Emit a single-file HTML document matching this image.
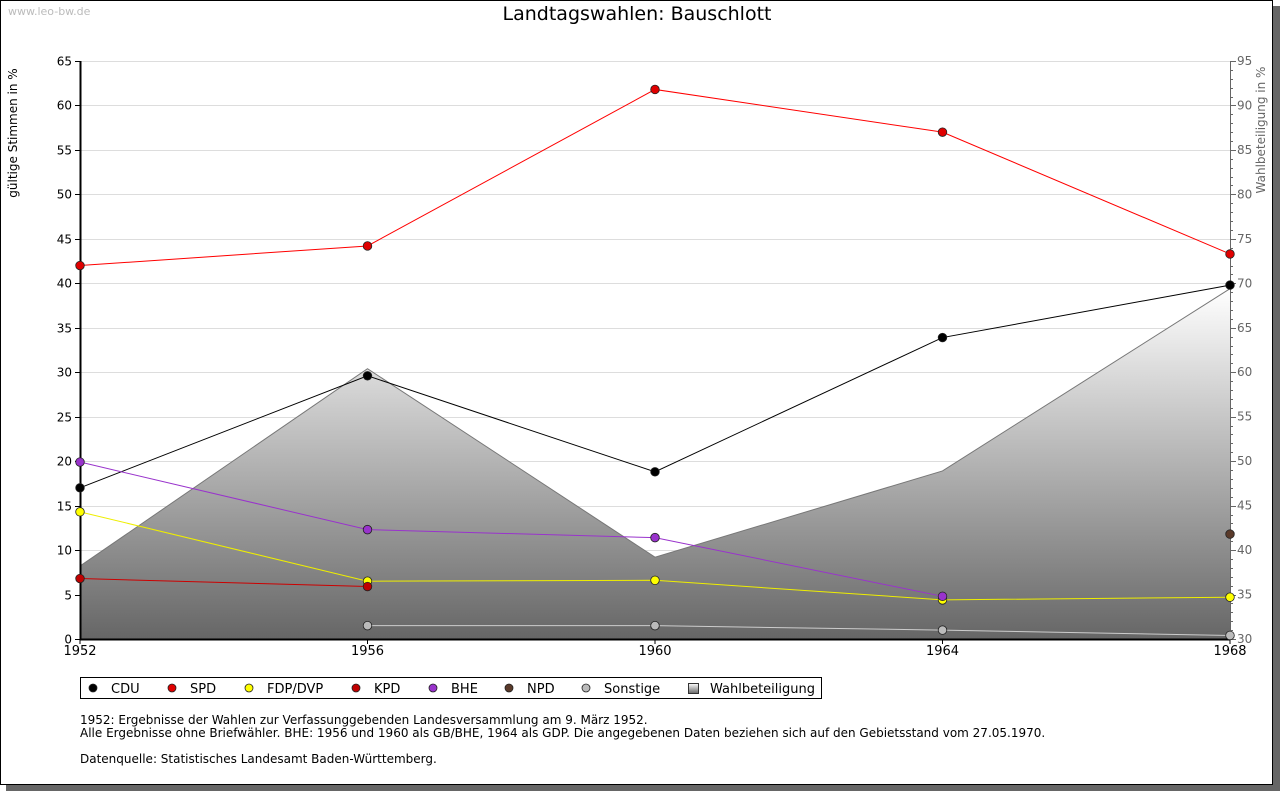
<!DOCTYPE html>
<html><head><meta charset="utf-8"><style>
body{margin:0;background:#fff;font-family:"DejaVu Sans","Liberation Sans",sans-serif;}
svg text{font-family:"DejaVu Sans","Liberation Sans",sans-serif;}
</style></head><body>
<svg id="chart" width="1280" height="791" xmlns="http://www.w3.org/2000/svg">
<defs>
<linearGradient id="tg" x1="0" y1="0" x2="0" y2="1">
<stop offset="0" stop-color="#ffffff"/><stop offset="1" stop-color="#666666"/>
</linearGradient>
</defs>
<rect x="6" y="6" width="1274" height="785" fill="#666"/>
<rect x="0.5" y="0.5" width="1272" height="784" fill="#fff" stroke="#000"/>
<text x="8" y="15" font-size="11" fill="#bbb">www.leo-bw.de</text>
<text x="637" y="20" font-size="19" text-anchor="middle">Landtagswahlen: Bauschlott</text>
<text transform="translate(17,133) rotate(-90)" font-size="12" text-anchor="middle">gültige Stimmen in %</text>
<text transform="translate(1265,130) rotate(-90)" font-size="12" fill="#666" text-anchor="middle">Wahlbeteiligung in %</text>
<g id="plot"></g>
<g>
<rect x="80.5" y="677.5" width="741" height="21" fill="#fff" stroke="#000"/>
<g id="legend"></g>
</g>
<text x="80" y="724" font-size="12">1952: Ergebnisse der Wahlen zur Verfassunggebenden Landesversammlung am 9. März 1952.</text>
<text x="80" y="737" font-size="12">Alle Ergebnisse ohne Briefwähler. BHE: 1956 und 1960 als GB/BHE, 1964 als GDP. Die angegebenen Daten beziehen sich auf den Gebietsstand vom 27.05.1970.</text>
<text x="80" y="763" font-size="12">Datenquelle: Statistisches Landesamt Baden-Württemberg.</text>
</svg>
<script>
const years=[1952,1956,1960,1964,1968];
const cdu=[17.0,29.6,18.8,33.9,39.8];
const spd=[42.0,44.2,61.8,57.0,43.3];
const fdp=[14.3,6.5,6.6,4.4,4.7];
const kpd=[6.8,5.9,null,null,null];
const bhe=[19.9,12.3,11.4,4.8,null];
const npd=[null,null,null,null,11.8];
const sonst=[null,1.5,1.5,1.0,0.4];
const turnout=[38.2,60.4,39.2,48.9,69.4];
const leftTicks=[0,5,10,15,20,25,30,35,40,45,50,55,60,65];
const rightTicks=[30,35,40,45,50,55,60,65,70,75,80,85,90,95];

const NS="http://www.w3.org/2000/svg";
const X0=80,X1=1230,Y0=639,Y1=61;
const x=i=>X0+(years[i]-years[0])/(years[years.length-1]-years[0])*(X1-X0);
const y=v=>Y0-(v-0)/(65-0)*(Y0-Y1);
const y2=v=>Y0-(v-30)/(95-30)*(Y0-Y1);
const plot=document.getElementById('plot');
function mk(tag,attrs,parent){const e=document.createElementNS(NS,tag);for(const k in attrs)e.setAttribute(k,attrs[k]);(parent||plot).appendChild(e);return e;}

leftTicks.forEach(t=>{
  const yy=Math.round(y(t))+0.5;
  if(t>0){const g=mk('line',{x1:X0,x2:X1,y1:yy,y2:yy,stroke:'#ddd'});
  
  }
  mk('line',{x1:X0-5,x2:X0,y1:yy,y2:yy,stroke:'#000'});
  const tx=mk('text',{x:X0-8,y:yy+4,'font-size':12,'text-anchor':'end'});
  tx.textContent=t;
  
  
});
let d='M'+x(0)+','+Y0;
turnout.forEach((v,i)=>{d+=' L'+x(i)+','+y2(v);});
d+=' L'+x(turnout.length-1)+','+Y0+' Z';
const area=mk('path',{d:d,fill:'url(#tg)',stroke:'none'});


const aline=mk('polyline',{points:turnout.map((v,i)=>x(i)+','+y2(v)).join(' '),fill:'none',stroke:'#777'});


mk('line',{x1:X1+0.5,x2:X1+0.5,y1:Y1,y2:Y0,stroke:'#666'});
for(let v=30;v<=95;v++){const yy=Math.round(y2(v))+0.5;mk('line',{x1:X1,x2:X1+(v%5==0?6:3),y1:yy,y2:yy,stroke:'#666'});}
rightTicks.forEach(t=>{
  const tx=mk('text',{x:X1+7,y:y2(t)+4,'font-size':12,fill:'#666'});
  tx.textContent=t;
  
  
});
mk('line',{x1:X0+0.5,x2:X0+0.5,y1:Y1,y2:Y0,stroke:'#000','stroke-width':2});
mk('line',{x1:X0,x2:X1,y1:Y0+0.5,y2:Y0+0.5,stroke:'#000','stroke-width':2});
years.forEach((yr,i)=>{
  mk('line',{x1:x(i),x2:x(i),y1:Y0,y2:Y0+5,stroke:'#000'});
  const tx=mk('text',{x:x(i),y:Y0+16,'font-size':13,'text-anchor':'middle'});
  tx.textContent=yr;
  
  
});
const series=[
 ['cdu',cdu,'#000','#000'],['spd',spd,'#f00','#e00000'],['fdp-dvp',fdp,'#ee0','#ff0'],
 ['kpd',kpd,'#c00','#c00000'],['bhe',bhe,'#93c','#9933cc'],['npd',npd,'#5a3a2a','#5a3a2a'],['sonstige',sonst,'#ccc','#bbb']];
series.forEach(([name,vals,lc,fc])=>{
  const g=mk('g',{});
  
  
  const pts=[];vals.forEach((v,i)=>{if(v!==null)pts.push(x(i)+','+y(v));});
  if(pts.length>1)mk('polyline',{points:pts.join(' '),fill:'none',stroke:lc,'stroke-width':1},g);
  vals.forEach((v,i)=>{if(v===null)return;
    const m=mk('circle',{cx:x(i),cy:y(v),r:4.3,fill:fc,stroke:'#222','stroke-width':0.8},g);
    
    
  });
});
const leg=document.getElementById('legend');
const lItems=[['CDU','#000',93],['SPD','#e00000',172],['FDP/DVP','#ff0',249],['KPD','#c00000',356],['BHE','#9933cc',433],['NPD','#5a3a2a',509],['Sonstige','#bbb',586]];
lItems.forEach(([n,c,lx])=>{
  const g=mk('g',{},leg);
  
  
  mk('circle',{cx:lx,cy:688,r:4,fill:c,stroke:'#222','stroke-width':0.8},g);
  const t=mk('text',{x:lx+18,y:693,'font-size':13},g);t.textContent=n;
});
const g=mk('g',{},leg);


mk('rect',{x:688.5,y:683.5,width:10,height:10,fill:'url(#tg)',stroke:'#333'},g);
const t=mk('text',{x:710,y:693,'font-size':13},g);t.textContent='Wahlbeteiligung';
</script>
</body></html>
